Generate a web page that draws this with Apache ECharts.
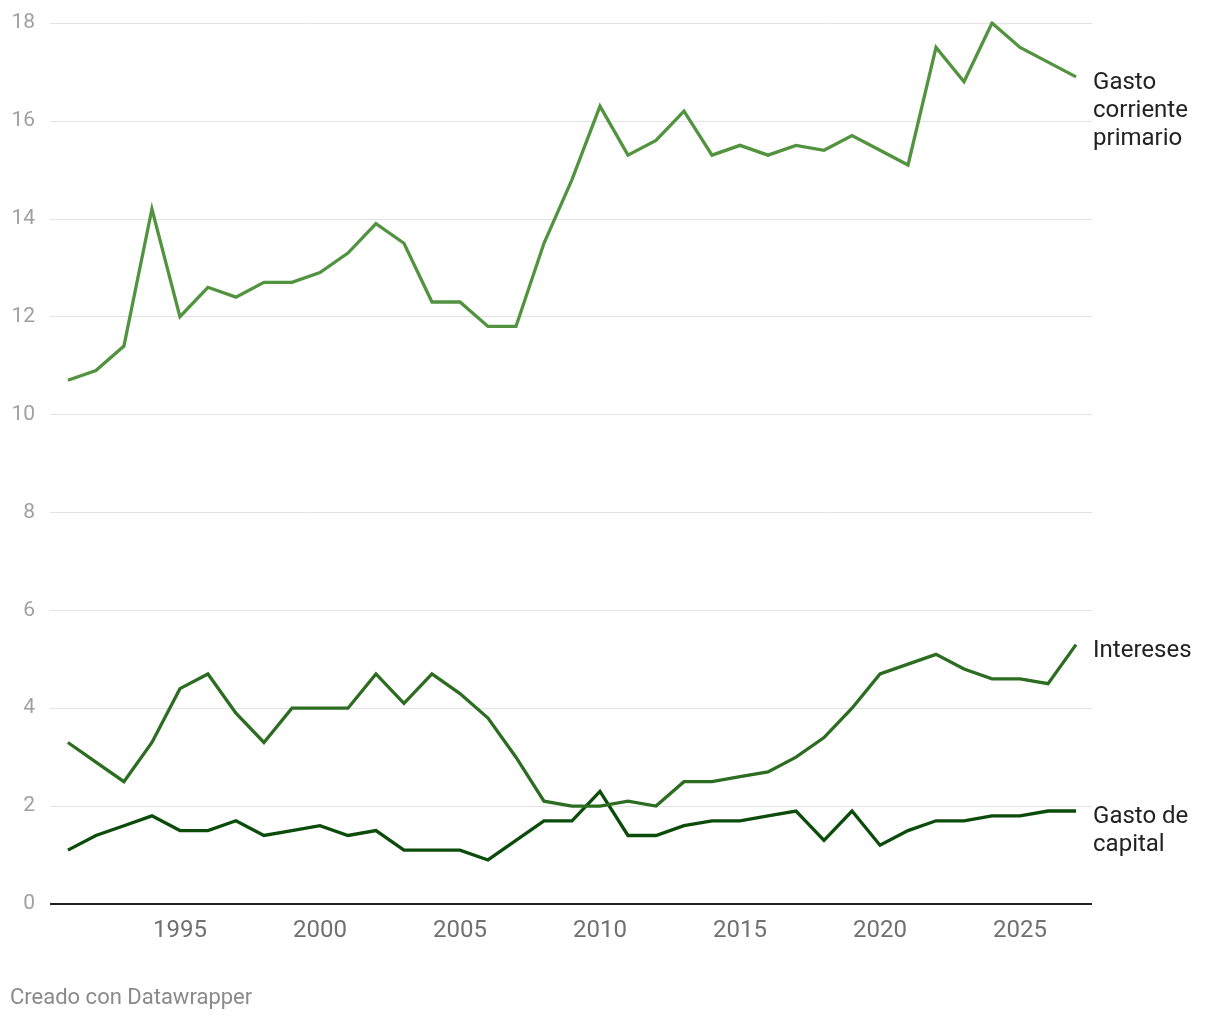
<!DOCTYPE html>
<html>
<head>
<meta charset="utf-8">
<script src="https://cdn.jsdelivr.net/npm/echarts@6/dist/echarts.min.js"></script>
<style>
html,body{margin:0;padding:0;background:#fff;}
#chart{width:1220px;height:1020px;}
</style>
</head>
<body>
<div id="chart"></div>
<script>
const years = [1991,1992,1993,1994,1995,1996,1997,1998,1999,2000,2001,2002,2003,2004,2005,2006,2007,2008,2009,2010,2011,2012,2013,2014,2015,2016,2017,2018,2019,2020,2021,2022,2023,2024,2025,2026,2027];
const gastoCorriente = [10.7,10.9,11.4,14.2,12.0,12.6,12.4,12.7,12.7,12.9,13.3,13.9,13.5,12.3,12.3,11.8,11.8,13.5,14.8,16.3,15.3,15.6,16.2,15.3,15.5,15.3,15.5,15.4,15.7,15.4,15.1,17.5,16.8,18.0,17.5,17.2,16.9];
const intereses = [3.3,2.9,2.5,3.3,4.4,4.7,3.9,3.3,4.0,4.0,4.0,4.7,4.1,4.7,4.3,3.8,3.0,2.1,2.0,2.0,2.1,2.0,2.5,2.5,2.6,2.7,3.0,3.4,4.0,4.7,4.9,5.1,4.8,4.6,4.6,4.5,5.3];
const gastoCapital = [1.1,1.4,1.6,1.8,1.5,1.5,1.7,1.4,1.5,1.6,1.4,1.5,1.1,1.1,1.1,0.9,1.3,1.7,1.7,2.3,1.4,1.4,1.6,1.7,1.7,1.8,1.9,1.3,1.9,1.2,1.5,1.7,1.7,1.8,1.8,1.9,1.9];
const seriesNames = ['Gasto corriente primario','Intereses','Gasto de capital'];
const seriesLabels = ['Gasto\ncorriente\nprimario','Intereses','Gasto de\ncapital'];
const xTicks = [1995,2000,2005,2010,2015,2020,2025];
const yTicks = [0,2,4,6,8,10,12,14,16,18];
const colors = ['#52933f','#2c6d22','#0b4c0a'];
const values = [gastoCorriente, intereses, gastoCapital];

const chart = echarts.init(document.getElementById('chart'));
const font = 'Roboto, sans-serif';
chart.setOption({
  animation:false,
  backgroundColor:'#ffffff',
  title:{text:'Creado con Datawrapper',left:10,top:987,padding:0,textStyle:{fontFamily:font,fontSize:22,fontWeight:'normal',color:'#8a8a8a'}},
  grid:{left:50,right:128,top:23,bottom:116},
  xAxis:{
    type:'value',min:1990.36,max:2027.57,
    axisLine:{show:false},axisTick:{show:false},splitLine:{show:false},
    axisLabel:{customValues:xTicks,formatter:v=>String(v),fontFamily:font,fontSize:24,color:'#707070',margin:15}
  },
  yAxis:{
    type:'value',min:0,max:18,interval:2,
    axisLine:{show:false},axisTick:{show:false},
    splitLine:{lineStyle:{color:'#e3e3e3',width:1}},
    axisLabel:{customValues:yTicks,fontFamily:font,fontSize:21,color:'#a0a0a0',margin:15,align:'right',padding:[2,0,0,0]}
  },
  series: values.map((v,i)=>({
    name:seriesNames[i],type:'line',showSymbol:false,symbol:'none',
    data:years.map((y,j)=>[y,v[j]]),
    lineStyle:{color:colors[i],width:3.3,join:'miter'},
    itemStyle:{color:colors[i]},
    z:3-i,
    endLabel:{show:true,formatter:()=>seriesLabels[i],fontFamily:font,fontSize:24,lineHeight:28,color:'#222222',distance:17,align:'left',verticalAlign:'top',offset:[0,-8]}
  })).concat([{
    type:'line',data:[],markLine:{silent:true,symbol:'none',label:{show:false},lineStyle:{color:'#222',width:2,type:'solid'},data:[{yAxis:0}]}
  }])
});
</script>
</body>
</html>
